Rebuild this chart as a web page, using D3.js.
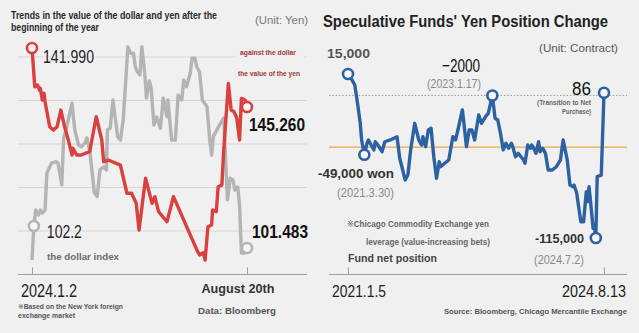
<!DOCTYPE html>
<html><head><meta charset="utf-8">
<script src="https://cdn.jsdelivr.net/npm/d3@7"></script>
<style>
html,body{margin:0;padding:0;background:#f0f0f0;}
svg{display:block;}
</style></head><body>
<svg id="chart" width="639" height="333"></svg>
<script>
// ---- Dollar / yen since the start of 2024 (x = days after 2024-01-02) ----
const yenDays = [0,3,6,8,9,11,13,14,19,23,27,31,35,39,43,44,48,53,57,62,69,75,77,82,95,102,107,112,115,122,129,132,136,145,152,178,180,184,186,189,193,194,198,200,204,206,211,214,217,220,223,225,229,231];
const yenValues = [141.99,144.14,144.04,144.32,144.22,144.87,144.50,144.97,146.35,146.54,146.35,145.43,146.35,147.09,147.92,147.55,147.92,147.92,147.83,147.74,145.80,147.09,148.29,148.20,148.48,150.04,150.04,150.60,152.08,149.21,150.60,150.23,151.06,151.62,150.23,153.28,153.46,153.34,153.74,151.90,151.80,150.97,151.06,149.68,149.58,147.64,143.95,145.43,145.52,145.87,147.09,144.78,144.87,145.26];

const dollarDays = [0,2,4,7,9,11,14,16,21,26,28,32,34,37,43,44,46,50,53,57,59,62,67,70,73,77,80,81,84,87,92,95,98,101,103,106,109,111,113,116,118,121,123,126,128,131,134,138,141,145,146,150,154,157,161,163,166,170,172,175,177,180,183,188,191,193,195,202,206,210,213,216,218,221,223,225,228,231];
const dollarValues = [101.09,102.20,102.72,102.56,102.72,102.62,102.72,103.93,104.25,104.30,104.25,103.54,105.07,105.39,106.21,105.88,105.33,104.84,104.78,104.91,105.07,104.66,103.29,103.16,104.03,104.13,104.03,105.33,105.39,106.31,105.11,105.00,105.66,107.07,108.04,107.83,107.83,107.39,107.23,107.12,108.04,107.22,106.37,106.93,106.70,105.49,105.75,105.39,106.37,105.76,106.31,105.00,105.00,106.47,106.31,106.96,106.74,107.18,107.67,107.67,107.39,107.22,106.31,106.09,105.00,104.51,105.13,105.52,105.72,103.05,103.76,103.70,103.37,103.48,102.88,101.32,101.32,101.483];

const leftDayTicks = [0, 231];
const leftTickLabels = ["2024.1.2", "August 20th"];

// ---- Speculative funds' net yen position (x = weeks after 2021-01-05) ----
const fundWeeks = [0,3,5,7,9,10,12,14,15,17,19,20,22,25,27,31,36,38,42,44,46,49,52,54,55,57,59,61,63,65,67,68,71,74,77,79,81,84,85,87,89,91,93,95,96,98,101,103,106,107,108,110,112,114,116,118,120,121,123,125,126,129,130,132,134,135,137,138,140,141,143,145,147,150,153,156,158,161,163,165,166,168,169,171,173,175,176,177,178,180,181,182,183,186,188];
const fundValues = [15000,10200,6300,-8200,-24100,-37300,-49000,-39700,-37300,-41300,-45200,-38700,-41300,-46600,-38700,-37300,-34700,-51800,-69000,-65100,-45200,-24100,-37300,-41300,-34700,-42600,-29400,-28000,-50600,-67700,-54500,-58500,-55800,-53200,-34700,-37300,-28000,-13500,-22800,-42600,-29400,-29400,-37300,-24100,-17500,-24100,-18800,-16200,-2000,-10900,-20100,-21500,-32000,-45200,-39900,-43900,-39900,-42600,-50600,-47900,-49200,-53200,-55800,-41300,-43900,-41300,-45200,-47900,-38700,-46600,-43900,-47900,-61100,-61100,-58500,-53200,-37300,-53200,-73000,-74300,-73000,-79600,-87500,-102100,-102100,-78300,-86200,-74300,-84900,-107300,-106000,-115000,-66400,-65100,86];

const fundMarkedWeeks = [0, 12, 106, 182, 188];
const fundReference = -2000;     // dotted level
const fundAverage = -43000;      // orange level
const rightWeekTicks = [0, 188];
const rightTickLabels = ["2021.1.5", "2024.8.13"];

const W = 639, H = 333, BG = "#f0f0f0";
const RED = "#d8413f", GREY = "#b4b4b4", BLUE = "#2d62a2", ORANGE = "#f2a444";
const NARROW = "'Liberation Sans Narrow','Arial Narrow','Liberation Sans',sans-serif";
const ARIAL = "'Liberation Sans',Arial,sans-serif";
const MARK_FONT = "'DejaVu Sans','Noto Sans CJK KR',sans-serif";

const svg = d3.select("#chart");
svg.append("rect").attr("width", W).attr("height", H).attr("fill", BG);

function label(g, o) {
  const t = g.append("text")
    .attr("x", o.x).attr("y", o.y)
    .attr("text-anchor", o.anchor || "start")
    .attr("font-family", o.family || ARIAL)
    .attr("font-size", o.size)
    .attr("font-weight", o.weight || "normal")
    .attr("fill", o.fill || "#222");
  if (o.mark) {
    // reference-mark bullet set in a font that carries the glyph
    t.append("tspan").attr("font-family", MARK_FONT).attr("font-weight", "normal").text("※");
    t.append("tspan").text(o.text);
  } else {
    t.text(o.text);
  }
  if (o.len) t.attr("textLength", o.len).attr("lengthAdjust", "spacingAndGlyphs");
  if (o.halo) t.attr("stroke", BG).attr("stroke-width", 3).attr("paint-order", "stroke").attr("stroke-linejoin", "round");
  return t;
}

function ring(g, x, y, color) {
  g.append("circle").attr("cx", x).attr("cy", y).attr("r", 5)
    .attr("fill", "#f7f7f7").attr("stroke", color).attr("stroke-width", 2.6);
}

// ================= Left panel =================
const left = svg.append("g");
const xL = d3.scaleLinear().domain([0, 231]).range([32, 247]);
const yYen = d3.scaleLinear().domain([141.99, 145.26]).range([48, 107]);
const yDxy = d3.scaleLinear().domain([101.483, 102.2]).range([248, 226]);
const gridBand = d3.scaleLinear().domain([0, 4]).range([57, 231]);

left.selectAll("line.grid").data(d3.range(5)).join("line")
  .attr("class", "grid")
  .attr("x1", 18).attr("x2", 307)
  .attr("y1", d => gridBand(d)).attr("y2", d => gridBand(d))
  .attr("stroke", "#d6d6d6").attr("stroke-width", 1);

left.append("line").attr("x1", 18).attr("x2", 307).attr("y1", 274.5).attr("y2", 274.5)
  .attr("stroke", "#a0a0a0").attr("stroke-width", 1);
const axL = left.append("g").attr("transform", "translate(0,274.5)")
  .call(d3.axisBottom(xL).tickValues(leftDayTicks).tickSize(-7).tickFormat(() => ""));
axL.select(".domain").remove();
axL.selectAll(".tick line").attr("stroke", "#a0a0a0");

// legend box for the yen line sits over the top grid line
left.append("rect").attr("x", 236).attr("y", 45).attr("width", 68).attr("height", 34).attr("fill", BG);

const dollarData = d3.zip(dollarDays, dollarValues);
const yenData = d3.zip(yenDays, yenValues);

left.append("path").datum(dollarData)
  .attr("d", d3.line().x(d => xL(d[0])).y(d => yDxy(d[1])))
  .attr("fill", "none").attr("stroke", GREY).attr("stroke-width", 3.4)
  .attr("stroke-linejoin", "round");
left.append("path").datum(yenData)
  .attr("d", d3.line().x(d => xL(d[0])).y(d => yYen(d[1])))
  .attr("fill", "none").attr("stroke", RED).attr("stroke-width", 3.4)
  .attr("stroke-linejoin", "round");

const yenFirst = yenData[0], yenLast = yenData[yenData.length - 1];
const dxyFirst = dollarData[1], dxyLast = dollarData[dollarData.length - 1];
ring(left, xL(yenFirst[0]), yYen(yenFirst[1]), RED);
ring(left, xL(yenLast[0]), yYen(yenLast[1]), RED);
ring(left, xL(dxyFirst[0]), yDxy(dxyFirst[1]), GREY);
ring(left, xL(dxyLast[0]), yDxy(dxyLast[1]), GREY);

label(left, {x: 11, y: 18.5, text: "Trends in the value of the dollar and yen after the", size: 10.3, family: NARROW, weight: "bold", fill: "#2a2a2a", len: 206});
label(left, {x: 11, y: 31, text: "beginning of the year", size: 10.3, family: NARROW, weight: "bold", fill: "#2a2a2a", len: 88});
label(left, {x: 308, y: 24, anchor: "end", text: "(Unit: Yen)", size: 11, fill: "#777", len: 53});

const fmt3 = d3.format(".3f");
label(left, {x: xL(yenFirst[0]) + 11, y: yYen(yenFirst[1]) + 15, text: fmt3(yenFirst[1]), size: 18, family: NARROW, fill: "#1e1e1e", len: 51, halo: true});
label(left, {x: xL(yenLast[0]) + 2, y: yYen(yenLast[1]) + 24, text: fmt3(yenLast[1]), size: 18.5, family: NARROW, weight: "bold", fill: "#111", len: 56, halo: true});
label(left, {x: xL(dxyFirst[0]) + 13, y: yDxy(dxyFirst[1]) + 12, text: String(dxyFirst[1]), size: 18, family: NARROW, fill: "#1e1e1e", len: 35, halo: true});
label(left, {x: xL(dxyLast[0]) + 5, y: yDxy(dxyLast[1]) - 10, text: fmt3(dxyLast[1]), size: 18.5, family: NARROW, weight: "bold", fill: "#111", len: 56, halo: true});

label(left, {x: 240, y: 54.5, text: "against the dollar", size: 8, family: NARROW, weight: "bold", fill: "#a53535", len: 56});
label(left, {x: 238, y: 75.5, text: "the value of the yen", size: 8, family: NARROW, weight: "bold", fill: "#a53535", len: 62});
label(left, {x: 47, y: 260, text: "the dollar index", size: 9.7, weight: "bold", fill: "#6a6a6a", len: 72});

label(left, {x: xL(leftDayTicks[0]) - 11, y: 297, text: leftTickLabels[0], size: 17.5, family: NARROW, fill: "#1e1e1e", len: 56});
label(left, {x: xL(leftDayTicks[1]) - 9, y: 293, anchor: "middle", text: leftTickLabels[1], size: 12.6, weight: "bold", fill: "#333", len: 73});
label(left, {x: 237, y: 314, anchor: "middle", text: "Data: Bloomberg", size: 9.7, weight: "bold", fill: "#555", len: 78});
label(left, {x: 18, y: 308.5, mark: true, text: "Based on the New York foreign", size: 7.4, family: NARROW, weight: "bold", fill: "#555", len: 105});
label(left, {x: 18, y: 318, text: "exchange market", size: 7.4, family: NARROW, weight: "bold", fill: "#555", len: 57});

// ================= Right panel =================
const right = svg.append("g");
const xR = d3.scaleLinear().domain([0, 188]).range([348, 604]);
const yR = d3.scaleLinear().domain([15000, -115000]).range([74, 238]);

right.append("line").attr("x1", 329).attr("x2", 627)
  .attr("y1", yR(fundAverage)).attr("y2", yR(fundAverage))
  .attr("stroke", ORANGE).attr("stroke-width", 1.3);
right.append("line").attr("x1", 329).attr("x2", 627)
  .attr("y1", yR(fundReference)).attr("y2", yR(fundReference))
  .attr("stroke", "#9a9a9a").attr("stroke-width", 1).attr("stroke-dasharray", "1.5,1.8");

right.append("line").attr("x1", 329).attr("x2", 627).attr("y1", 274.5).attr("y2", 274.5)
  .attr("stroke", "#a0a0a0").attr("stroke-width", 1);
const axR = right.append("g").attr("transform", "translate(0,274.5)")
  .call(d3.axisBottom(xR).tickValues(rightWeekTicks).tickSize(-7).tickFormat(() => ""));
axR.select(".domain").remove();
axR.selectAll(".tick line").attr("stroke", "#a0a0a0");

const fundData = d3.zip(fundWeeks, fundValues);
right.append("path").datum(fundData)
  .attr("d", d3.line().x(d => xR(d[0])).y(d => yR(d[1])))
  .attr("fill", "none").attr("stroke", BLUE).attr("stroke-width", 3.4)
  .attr("stroke-linejoin", "round");
fundData.filter(d => fundMarkedWeeks.includes(d[0]))
  .forEach(d => ring(right, xR(d[0]), yR(d[1]), BLUE));

label(right, {x: 323, y: 27, text: "Speculative Funds' Yen Position Change", size: 16.3, weight: "bold", fill: "#222", len: 285});
label(right, {x: 618, y: 52, anchor: "end", text: "(Unit: Contract)", size: 10.5, fill: "#555", len: 79});

label(right, {x: 327, y: 57.5, text: "15,000", size: 13.5, fill: "#555", weight: "bold", len: 43});
label(right, {x: 461, y: 71.5, anchor: "middle", text: "−2000", size: 19, family: NARROW, fill: "#111", len: 38});
label(right, {x: 454, y: 88, anchor: "middle", text: "(2023.1.17)", size: 13, family: NARROW, fill: "#888", len: 54});
label(right, {x: 591, y: 95, anchor: "end", text: "86", size: 19, family: NARROW, fill: "#111", len: 19});
label(right, {x: 591, y: 105, anchor: "end", text: "(Transition to Net", size: 6.6, family: NARROW, weight: "bold", fill: "#666", len: 54});
label(right, {x: 591, y: 113.8, anchor: "end", text: "Purchase)", size: 6.6, family: NARROW, weight: "bold", fill: "#666", len: 29});

label(right, {x: 318, y: 177.5, text: "-49,000 won", size: 13.4, weight: "bold", fill: "#333", len: 76});
label(right, {x: 337, y: 197, text: "(2021.3.30)", size: 13, family: NARROW, fill: "#888", len: 57});
label(right, {x: 347, y: 227, mark: true, text: "Chicago Commodity Exchange yen", size: 9.3, family: NARROW, weight: "bold", fill: "#666", len: 142});
label(right, {x: 366, y: 244.5, text: "leverage (value-increasing bets)", size: 9.3, family: NARROW, weight: "bold", fill: "#666", len: 124});
label(right, {x: 348, y: 262, text: "Fund net position", size: 11, weight: "bold", fill: "#444", len: 89});
label(right, {x: 535, y: 243, text: "-115,000", size: 12.8, weight: "bold", fill: "#333", len: 49});
label(right, {x: 534, y: 264, text: "(2024.7.2)", size: 13, family: NARROW, fill: "#888", len: 50});

label(right, {x: 332, y: 297, text: rightTickLabels[0], size: 17, family: NARROW, fill: "#1e1e1e", len: 54});
label(right, {x: 562, y: 297, text: rightTickLabels[1], size: 17, family: NARROW, fill: "#1e1e1e", len: 64});
label(right, {x: 444, y: 314, text: "Source: Bloomberg, Chicago Mercantile Exchange", size: 8.1, family: NARROW, weight: "bold", fill: "#555", len: 183});
</script></body></html>
